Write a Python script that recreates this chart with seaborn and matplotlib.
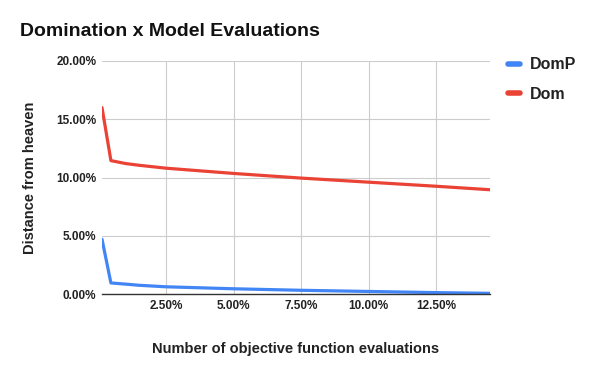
import pandas as pd
import numpy as np
import matplotlib
matplotlib.use('Agg')
import matplotlib.pyplot as plt
import seaborn as sns
from matplotlib.ticker import FuncFormatter

# evaluations (% of budget) and distance from heaven (%)
evals = [0.13, 0.46, 1.0, 1.5, 2.5, 5.0, 7.5, 10.0, 12.5, 14.5]
dom_p = [4.7, 0.95, 0.85, 0.75, 0.62, 0.45, 0.32, 0.22, 0.12, 0.06]
dom = [16.0, 11.45, 11.2, 11.05, 10.8, 10.35, 9.95, 9.6, 9.25, 8.95]
series = ['DomP', 'Dom']
colors = ['#4285F4', '#EA4335']

df = pd.DataFrame({'evals': evals * 2,
                   'dist': dom_p + dom,
                   'series': ['DomP'] * len(evals) + ['Dom'] * len(evals)})

sns.set_style('white')
plt.rcParams['font.family'] = ['Liberation Sans', 'DejaVu Sans']

fig = plt.figure(figsize=(6, 3.71), dpi=100)
ax = fig.add_axes([0.17, 0.2075, 0.6467, 0.6281])

sns.lineplot(data=df, x='evals', y='dist', hue='series', hue_order=series,
             palette=colors, linewidth=2.3, ax=ax, legend=True)

ax.set_xlim(0.13, 14.5)
ax.set_ylim(0, 20)
ax.set_xticks([2.5, 5, 7.5, 10, 12.5])
ax.set_yticks([0, 5, 10, 15, 20])
fmt = FuncFormatter(lambda v, p: f'{v:.2f}%')
ax.xaxis.set_major_formatter(fmt)
ax.yaxis.set_major_formatter(fmt)
ax.grid(True, color='#cccccc', linewidth=0.8)
ax.set_axisbelow(True)
for s in ['top', 'right', 'left']:
    ax.spines[s].set_visible(False)
ax.spines['bottom'].set_color('#333333')
ax.spines['bottom'].set_linewidth(1)
ax.tick_params(axis='both', length=0, labelsize=8.5, pad=4)
for lab in ax.get_xticklabels() + ax.get_yticklabels():
    lab.set_fontweight('bold')
    lab.set_color('#222222')

ax.set_xlabel('Number of objective function evaluations', fontsize=10.5,
              fontweight='bold', labelpad=22, color='#222222')
ax.set_ylabel('Distance from heaven', fontsize=10.5, fontweight='bold',
              labelpad=14, color='#222222')

fig.text(0.033, 0.915, 'Domination x Model Evaluations', fontsize=14,
         fontweight='bold', color='#111111', ha='left', va='center')

leg = ax.legend(loc='upper left', bbox_to_anchor=(1.03, 1.043), frameon=False,
                borderaxespad=0, handlelength=0.75, handletextpad=0.6,
                labelspacing=0.9, prop={'weight': 'bold', 'size': 11.5})
for h in leg.get_lines():
    h.set_linewidth(4)
for t in leg.get_texts():
    t.set_color('#222222')

fig.savefig('out.png', dpi=100)
